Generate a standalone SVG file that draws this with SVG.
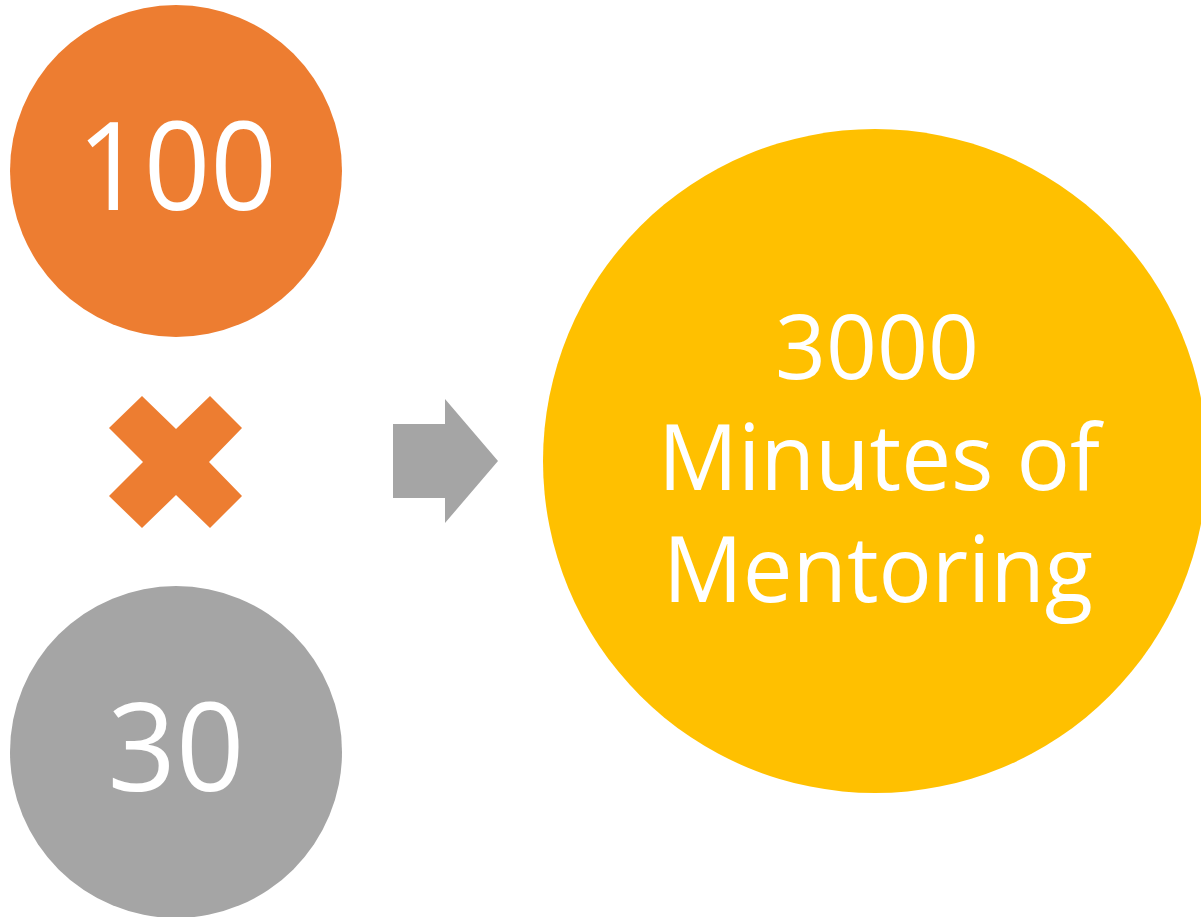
<svg xmlns="http://www.w3.org/2000/svg" width="1201" height="917" viewBox="0 0 1201 917">
<style>
.lbl{font-family:"Open Sans","Liberation Sans",sans-serif;fill:#FFFFFF;text-anchor:middle}
</style>
<rect width="1201" height="917" fill="#FFFFFF"/>
<g id="node-100">
<circle cx="176" cy="171" r="166" fill="#ED7D31"/>
<text class="lbl" x="177" y="210" font-size="122" textLength="200" lengthAdjust="spacingAndGlyphs">100</text>
</g>
<g id="node-times">
<polygon points="142,396 176,429 210,396 242,428 209,462 242,496 210,528 176,495 142,528 109,496 143,462 109,428" fill="#ED7D31"/>
</g>
<g id="node-30">
<circle cx="176" cy="752" r="166" fill="#A5A5A5"/>
<text class="lbl" x="176" y="791" font-size="122" textLength="137" lengthAdjust="spacingAndGlyphs">30</text>
</g>
<g id="connectors">
<polygon points="393,424 445,424 445,399 498,461 445,523 445,498 393,498" fill="#A5A5A5"/>
</g>
<g id="node-result">
<circle cx="875" cy="461" r="332" fill="#FFC000"/>
<text class="lbl" x="877" y="379" font-size="90" textLength="204" lengthAdjust="spacingAndGlyphs">3000</text>
<text class="lbl" x="879" y="490" font-size="91" textLength="442" lengthAdjust="spacingAndGlyphs">Minutes of</text>
<text class="lbl" x="878" y="602" font-size="91" textLength="430" lengthAdjust="spacingAndGlyphs">Mentoring</text>
</g>
</svg>
